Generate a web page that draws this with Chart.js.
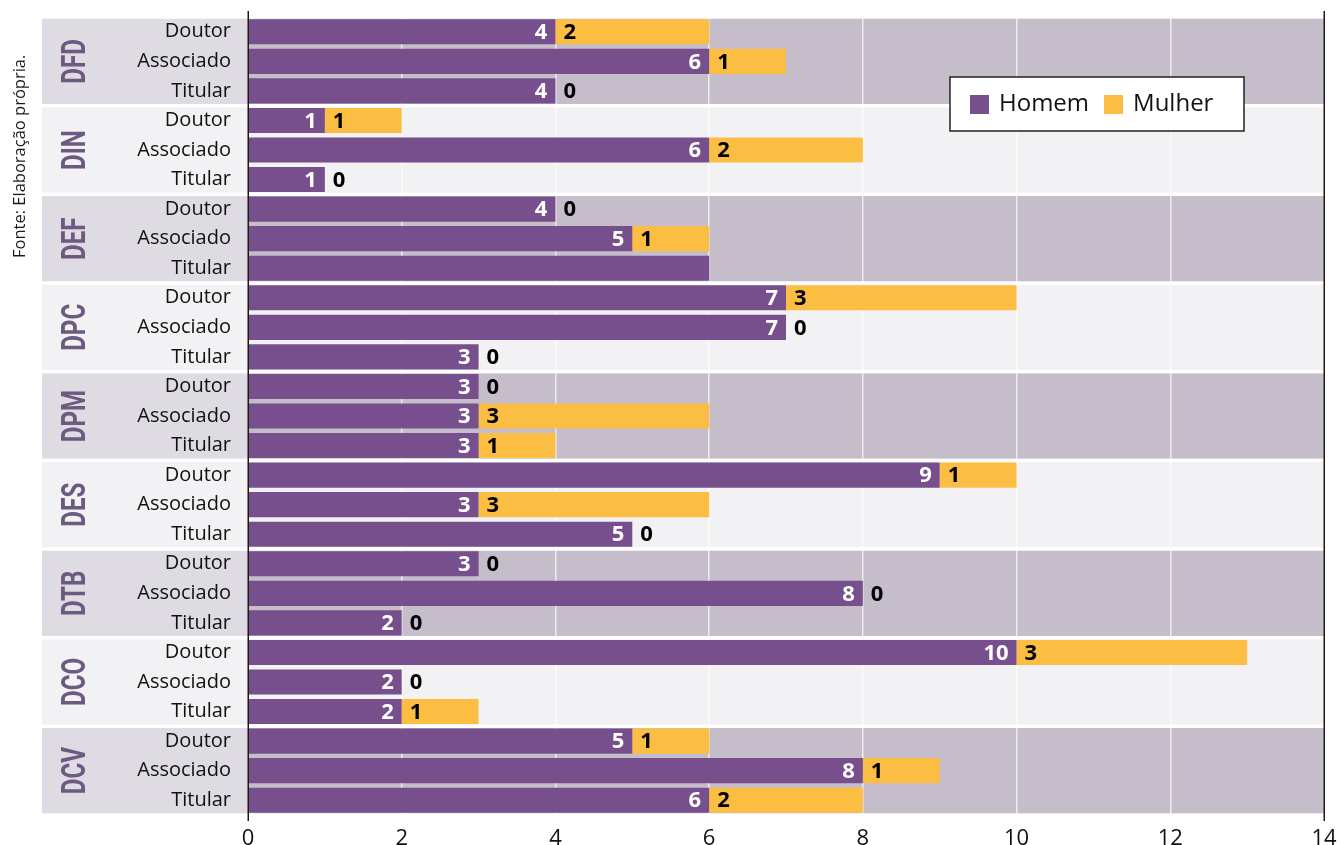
<!DOCTYPE html>
<html>
<head>
<meta charset="utf-8">
<script src="https://cdn.jsdelivr.net/npm/chart.js@4/dist/chart.umd.min.js"></script>
<style>
  html, body { margin: 0; padding: 0; background: #fff; }
  canvas { display: block; }
</style>
</head>
<body>
<canvas id="grafico" width="1341" height="845"></canvas>
<script>
const grupos = ['DFD', 'DIN', 'DEF', 'DPC', 'DPM', 'DES', 'DTB', 'DCO', 'DCV'];
const cargos = ['Doutor', 'Associado', 'Titular'];
// uma linha por grupo: Doutor, Associado, Titular
const homem  = [4, 6, 4,  1, 6, 1,  4, 5, 6,  7, 7, 3,  3, 3, 3,  9, 3, 5,  3, 8, 2,  10, 2, 2,  5, 8, 6];
const mulher = [2, 1, 0,  1, 2, 0,  0, 1, 0,  3, 0, 0,  0, 3, 1,  1, 3, 0,  0, 0, 0,  3, 0, 1,  1, 1, 2];
const linhasSemRotulo = [8]; // DEF Titular aparece sem números
const fonte = 'Fonte: Elaboração própria.';

const ROXO = '#774f8c';
const AMARELO = '#fbbe42';
const BARRA = 0.85;

const rotulosY = grupos.flatMap(() => cargos);

// faixas de fundo, nomes dos grupos e fonte
const fundo = {
  id: 'fundo',
  beforeDraw(chart) {
    const { ctx, chartArea: a, scales: { y } } = chart;
    const passo = y.getPixelForValue(1) - y.getPixelForValue(0);
    const barra = passo * BARRA;
    grupos.forEach((g, i) => {
      const t = y.getPixelForValue(i * 3) - barra / 2 - 0.5;
      const b = y.getPixelForValue(i * 3 + 2) + barra / 2 + 0.5;
      const escuro = i % 2 === 0;
      ctx.fillStyle = escuro ? '#dedbe2' : '#f2f2f4';
      ctx.fillRect(42, t, a.left - 42, b - t);
      ctx.fillStyle = escuro ? '#c5bdca' : '#f2f2f4';
      ctx.fillRect(a.left, t, a.right - a.left, b - t);

      ctx.save();
      ctx.translate(85, (t + b) / 2);
      ctx.rotate(-Math.PI / 2);
      ctx.scale(0.71, 1);
      ctx.font = 'bold 34px Roboto';
      ctx.fillStyle = '#6c5a80';
      ctx.textAlign = 'center';
      ctx.textBaseline = 'alphabetic';
      ctx.fillText(g, 0, 0);
      ctx.restore();
    });

    ctx.save();
    ctx.translate(25, 258);
    ctx.rotate(-Math.PI / 2);
    ctx.font = '16.5px "Open Sans"';
    ctx.fillStyle = '#1a1a1a';
    ctx.textAlign = 'left';
    ctx.textBaseline = 'alphabetic';
    ctx.fillText(fonte, 0, 0);
    ctx.restore();
  }
};

// números nas barras, eixos pretos e legenda
const extras = {
  id: 'extras',
  afterDraw(chart) {
    const { ctx, chartArea: a, scales: { x } } = chart;
    const mH = chart.getDatasetMeta(0);
    const mM = chart.getDatasetMeta(1);

    ctx.save();
    ctx.font = 'bold 22px "Open Sans"';
    ctx.textBaseline = 'middle';
    for (let j = 0; j < homem.length; j++) {
      if (linhasSemRotulo.includes(j)) continue;
      const eh = mH.data[j];
      ctx.fillStyle = '#fff';
      ctx.textAlign = 'right';
      ctx.fillText(homem[j], eh.x - 8, eh.y + 1);
      const em = mM.data[j];
      ctx.fillStyle = '#000';
      ctx.textAlign = 'left';
      ctx.fillText(mulher[j], em.base + 8, em.y + 1);
    }
    ctx.restore();

    // linhas verticais em 0 e 14
    ctx.save();
    ctx.strokeStyle = '#1a1a1a';
    ctx.lineWidth = 1.5;
    [x.min, x.max].forEach(v => {
      const px = Math.round(x.getPixelForValue(v)) + 0.25;
      ctx.beginPath();
      ctx.moveTo(px, a.top - 6);
      ctx.lineTo(px, a.bottom + 6);
      ctx.stroke();
    });
    ctx.restore();

    // legenda
    const lx = a.right - 374, ly = a.top + 60, lw = 294, lh = 54;
    ctx.save();
    ctx.fillStyle = '#fff';
    ctx.fillRect(lx, ly, lw, lh);
    ctx.strokeStyle = '#222';
    ctx.lineWidth = 1.5;
    ctx.strokeRect(lx, ly, lw, lh);
    ctx.font = '24px "Open Sans"';
    ctx.textBaseline = 'middle';
    ctx.textAlign = 'left';
    let cx = lx + 20;
    chart.data.datasets.forEach(ds => {
      ctx.fillStyle = ds.backgroundColor;
      ctx.fillRect(cx, ly + lh / 2 - 9, 19, 19);
      ctx.fillStyle = '#111';
      ctx.fillText(ds.label, cx + 29, ly + lh / 2);
      cx += 29 + ctx.measureText(ds.label).width + 15;
    });
    ctx.restore();
  }
};

new Chart(document.getElementById('grafico'), {
  type: 'bar',
  data: {
    labels: rotulosY,
    datasets: [
      { label: 'Homem', data: homem, backgroundColor: ROXO, borderWidth: 0 },
      { label: 'Mulher', data: mulher, backgroundColor: AMARELO, borderWidth: 0 }
    ]
  },
  options: {
    indexAxis: 'y',
    responsive: false,
    animation: false,
    devicePixelRatio: 1,
    layout: { padding: { top: 17, right: 17, left: 0, bottom: 0 } },
    datasets: { bar: { barPercentage: BARRA, categoryPercentage: 1 } },
    plugins: {
      legend: { display: false },
      tooltip: { enabled: false }
    },
    scales: {
      x: {
        stacked: true,
        min: 0,
        max: 14,
        z: 1,
        border: { display: false },
        grid: {
          drawTicks: false,
          lineWidth: 1.5,
          color: c => (c.tick.value === 0 || c.tick.value === 14) ? 'rgba(0,0,0,0)' : 'rgba(255,255,255,0.7)'
        },
        ticks: {
          stepSize: 2,
          padding: 11,
          color: '#111',
          font: { family: 'Open Sans', size: 22 }
        },
        afterFit: s => {
          s.height = 30;
          s.paddingLeft = 0;
          s.paddingRight = 0;
        }
      },
      y: {
        stacked: true,
        border: { display: false },
        grid: { display: false, drawTicks: false },
        ticks: {
          autoSkip: false,
          padding: 17,
          color: '#111',
          font: { family: 'Open Sans', size: 20 }
        },
        afterFit: s => {
          s.width = 248;
          s.paddingTop = 0;
          s.paddingBottom = 0;
        }
      }
    }
  },
  plugins: [fundo, extras]
});
</script>
</body>
</html>
